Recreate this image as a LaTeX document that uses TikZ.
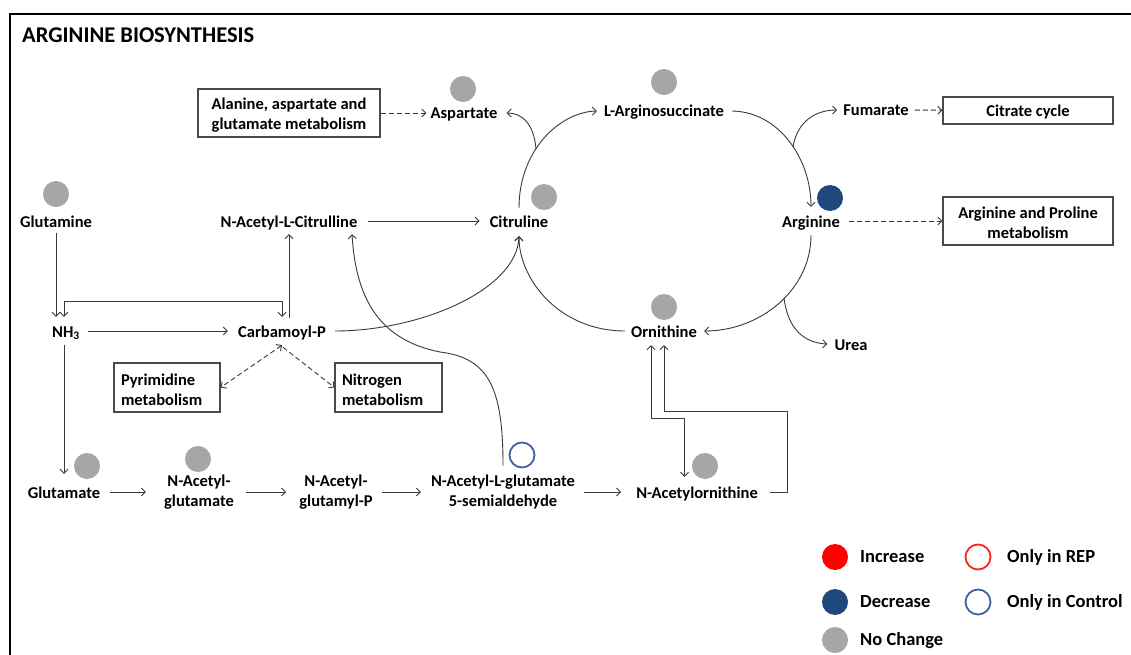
\documentclass[tikz,border=0pt]{standalone}
\usepackage{fontspec}
\setmainfont{Carlito}
\usetikzlibrary{arrows.meta}
\definecolor{nochg}{HTML}{A6A6A6}
\definecolor{decr}{HTML}{1F497D}
\definecolor{ctrl}{HTML}{3A62A0}
\definecolor{rep}{HTML}{FF2020}
\definecolor{lnc}{HTML}{3A3A3A}
\definecolor{boxc}{HTML}{4A4A4A}
\begin{document}
\begin{tikzpicture}[x=1pt,y=-1pt,
  lbl/.style={font=\fontsize{16.5}{20}\selectfont\bfseries, inner sep=1pt, text height=13pt, text depth=1pt},
  lbltwo/.style={font=\fontsize{16.5}{20}\selectfont\bfseries, inner sep=1pt, align=center},
  pbox/.style={draw=boxc, line width=1.2pt, inner sep=0pt},
  boxtxt/.style={font=\fontsize{16.5}{20}\selectfont\bfseries, inner sep=0pt, align=center},
  arr/.style={draw=lnc, line width=0.9pt, -{Straight Barb[length=4pt,width=8pt]}},
  barr/.style={draw=lnc, line width=0.9pt, {Straight Barb[length=4pt,width=8pt]}-{Straight Barb[length=4pt,width=8pt]}},
  darr/.style={arr, dash pattern=on 5pt off 3pt},
  dbarr/.style={barr, dash pattern=on 5pt off 3pt},
  ncdot/.style={circle, fill=nochg, minimum size=26pt, inner sep=0pt},
  ring/.style={circle, draw=#1, line width=1.8pt, minimum size=25pt, inner sep=0pt},
  lgd/.style={font=\fontsize{18.5}{22}\selectfont\bfseries, anchor=west, inner sep=0pt, text height=14pt, text depth=2.5pt}
]
\useasboundingbox (0,0) rectangle (1131,655);
\fill[white] (0,0) rectangle (1131,655);
% frame
\draw[line width=2pt] (9.5,655) -- (9.5,14.5) -- (1131,14.5);
\node[anchor=west, inner sep=0pt, font=\fontsize{22.5}{24}\selectfont\bfseries] (title) at (22,35) {ARGININE BIOSYNTHESIS};

% labels
\node[lbl] (gln) at (56,221) {Glutamine};
\node[lbl] (nacit) at (289,221) {N-Acetyl-L-Citrulline};
\node[lbl] (cit) at (519,221) {Citruline};
\node[lbl] (arg) at (811,221) {Arginine};
\node[lbl] (asp) at (464,113) {Aspartate};
\node[lbl] (lasuc) at (664,111) {L-Arginosuccinate};
\node[lbl] (fum) at (876,110) {Fumarate};
\node[lbl] (nh3) at (66,331) {NH\textsubscript{3}};
\node[lbl] (cp) at (282,331) {Carbamoyl-P};
\node[lbl] (orn) at (664,331) {Ornithine};
\node[lbl] (urea) at (851,344) {Urea};
\node[lbl] (glu) at (64,492) {Glutamate};
\node[lbltwo] (nag) at (199,492) {N-Acetyl-\\glutamate};
\node[lbltwo] (nagp) at (336,492) {N-Acetyl-\\glutamyl-P};
\node[lbltwo] (nags) at (503,492) {N-Acetyl-L-glutamate\\5-semialdehyde};
\node[lbl] (naorn) at (697,492) {N-Acetylornithine};

% boxes
\node[pbox, minimum width=182pt, minimum height=48pt] (ala) at (289,113) {};
\node[boxtxt] (alat) at ([yshift=-2pt]ala.center) {Alanine, aspartate and\\glutamate metabolism};
\node[pbox, minimum width=170pt, minimum height=27pt] (tca) at (1028,110.5) {};
\node[boxtxt] (tcat) at ([yshift=-1.5pt]tca.center) {Citrate cycle};
\node[pbox, minimum width=170pt, minimum height=48pt] (argpro) at (1028,221) {};
\node[boxtxt] (argprot) at ([yshift=-2pt]argpro.center) {Arginine and Proline\\metabolism};
\node[pbox, minimum width=106pt, minimum height=49pt] (pyr) at (167,387.5) {};
\node[boxtxt, align=left, text width=92pt] (pyrt) at ([yshift=-2pt]pyr.center) {Pyrimidine\\metabolism};
\node[pbox, minimum width=107pt, minimum height=49pt] (nit) at (388.5,387.5) {};
\node[boxtxt, align=left, text width=93pt] (nitt) at ([yshift=-2pt]nit.center) {Nitrogen\\metabolism};

% status circles
\node[ncdot] (cgln) at (56,194) {};
\node[ncdot] (casp) at (463,89) {};
\node[ncdot] (clasuc) at (664,82) {};
\node[ncdot] (ccit) at (544,197) {};
\node[ncdot, fill=decr] (carg) at (830,198) {};
\node[ncdot] (corn) at (664,307) {};
\node[ncdot] (cglu) at (87,466) {};
\node[ncdot] (cnag) at (198,459) {};
\node[ring=ctrl] (cnags) at (522,455) {};
\node[ncdot] (cnaorn) at (705,466) {};

% dashed links
\draw[darr, shorten >=3pt] (ala) -- (asp);
\draw[darr, shorten <=5pt] (fum) -- (tca);
\draw[darr, shorten <=8pt] (arg) -- (argpro);
\draw[dbarr] ([yshift=-6pt]cp.south) -- (pyr.east);
\draw[darr] ([xshift=1pt,yshift=-8pt]cp.south) -- (nit.west);

% urea cycle
\coordinate (b1) at (536,149);
\coordinate (b2) at (793,147);
\coordinate (b3) at (784,298);
\draw[arr] ([yshift=5pt]cit.north) .. controls (519,150) and (560,112) .. ([xshift=-6pt]lasuc.west);
\draw[arr] (b1) .. controls (534,124) and (522,113) .. ([xshift=8pt]asp.east);
\draw[arr] ([xshift=7pt]lasuc.east) .. controls (780,112) and (811,160) .. ([yshift=6pt]arg.north);
\draw[arr] (b2) .. controls (797,122) and (815,110) .. ([xshift=-5pt]fum.west);
\draw[arr] ([yshift=-6pt]arg.south) .. controls (811,290) and (760,331) .. ([xshift=6pt]orn.east);
\draw[arr] (b3) .. controls (788,330) and (805,343) .. ([xshift=-6pt]urea.west);
\draw[arr] ([xshift=-5pt]orn.west) .. controls (560,331) and (519,280) .. ([yshift=-7pt]cit.south);
\draw[arr] ([xshift=8pt]cp.east) .. controls (420,331) and (517,290) .. ([yshift=-7pt]cit.south);
\draw[arr, shorten <=9pt, shorten >=9pt] (nacit) -- (cit);

% semialdehyde to N-acetyl-L-citrulline
\draw[arr] ([yshift=8pt]nags.north) .. controls (503,390) and (490,358) .. (440,352) .. controls (380,340) and (356,300) .. ([xshift=63pt,yshift=-5pt]nacit.south);

% left part
\draw[arr] ([xshift=7pt,yshift=5pt]cp.north) -- ([yshift=-5pt]nacit.south);
\draw[barr] ([xshift=-2pt,yshift=6pt]nh3.north) -- ++(0,-15) -| ([yshift=6pt]cp.north);
\draw[arr, shorten <=4pt, shorten >=6pt] (gln.south) -- (gln.south |- nh3.north);
\draw[arr, shorten <=7pt, shorten >=9pt] (nh3) -- (cp);
\draw[arr, shorten <=6pt, shorten >=10pt] (glu.north |- nh3.south) -- (glu.north);

% bottom row
\draw[arr, shorten <=9pt, shorten >=17pt] (glu.east) -- (glu.east -| nag.west);
\draw[arr, shorten <=11pt, shorten >=12pt] (glu.east -| nag.east) -- (glu.east -| nagp.west);
\draw[arr, shorten <=8pt, shorten >=9pt] (glu.east -| nagp.east) -- (glu.east -| nags.west);
\draw[arr, shorten <=8pt, shorten >=14pt] (glu.east -| nags.east) -- (naorn.west);

% N-acetylornithine <-> ornithine
\draw[barr] ([xshift=-13pt,yshift=-6pt]orn.south) -- ++(0,73) -| ([xshift=-12.5pt,yshift=7pt]naorn.north);
\draw[arr] ([xshift=11pt]naorn.east) -- ++(17,0) |- ([yshift=-72pt]orn.south) -- ([yshift=-6pt]orn.south);

% legend
\node[ncdot, fill=red] (lgc1) at (835,557) {};
\node[lgd] (lgt1) at (860,557) {Increase};
\node[ncdot, fill=decr] (lgc2) at (835,602) {};
\node[lgd] (lgt2) at (860,602) {Decrease};
\node[ncdot] (lgc3) at (835,640) {};
\node[lgd] (lgt3) at (860,640) {No Change};
\node[ring=rep] (lgc4) at (978,557) {};
\node[lgd] (lgt4) at (1007,557) {Only in REP};
\node[ring=ctrl] (lgc5) at (978,602) {};
\node[lgd] (lgt5) at (1007,602) {Only in Control};
\end{tikzpicture}
\end{document}
